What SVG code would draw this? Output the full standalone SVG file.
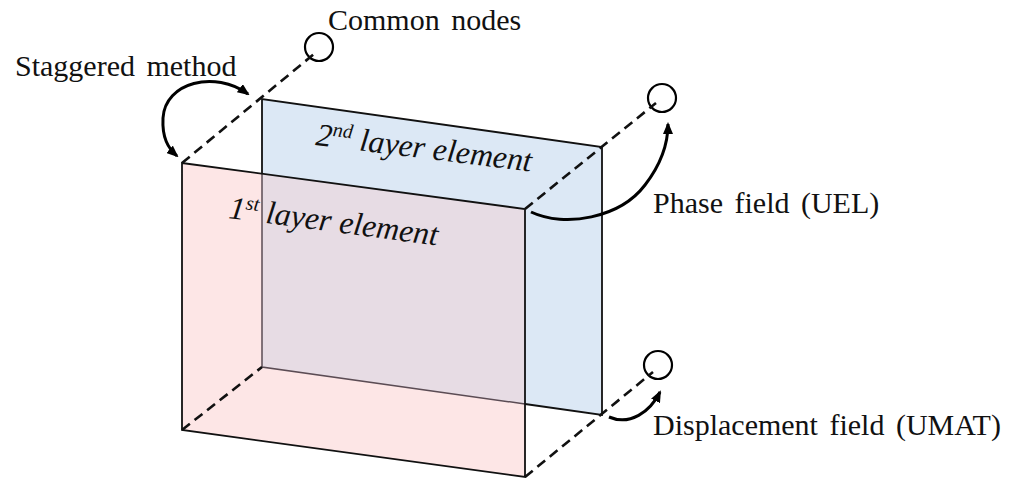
<svg xmlns="http://www.w3.org/2000/svg" width="1030" height="479" viewBox="0 0 1030 479">
  <defs>
    <marker id="head" viewBox="0 0 12 10" refX="10" refY="5" markerWidth="12" markerHeight="10" markerUnits="userSpaceOnUse" orient="auto-start-reverse">
      <path d="M0,0 L12,5 L0,10 Z" fill="#000"/>
    </marker>
    <style>
      .label { font-family: "Liberation Serif", "Times New Roman", serif; font-size: 30px; fill: #111; word-spacing: 4px; }
      .layer { font-family: "Liberation Serif", "Times New Roman", serif; font-size: 32px; font-style: italic; fill: #111; }
      .sup { font-size: 20px; }
      .edge { fill: none; stroke: #111; stroke-width: 1.8; stroke-linejoin: miter; }
      .hidden { fill: none; stroke: #5b4c54; stroke-width: 1.5; }
      .dash { fill: none; stroke: #111; stroke-width: 2.6; stroke-dasharray: 10 6; }
      .arrow { fill: none; stroke: #000; stroke-width: 3; }
      .node { fill: none; stroke: #000; stroke-width: 2.2; }
    </style>
  </defs>

  <!-- second layer element (back face) -->
  <g id="layer2">
    <polygon points="262,99 602,147 602,415 262,367" fill="#dce8f5"/>
    <polyline class="edge" points="262,174 262,99 602,147 602,415 525,404"/>
    <text class="layer" transform="translate(315,145) rotate(7)">2<tspan class="sup" dy="-11">nd</tspan><tspan dy="11"> layer element</tspan></text>
  </g>

  <!-- first layer element (front face, see-through) -->
  <g id="layer1">
    <polygon points="182,163 525,209 525,477 182,430" fill="#fde6e6"/>
    <polygon points="262,174 525,209 525,404 262,367" fill="#e7dce4"/>
    <polyline class="hidden" points="262,174 262,367 525,404"/>
    <polygon class="edge" points="182,163 525,209 525,477 182,430"/>
    <text class="layer" transform="translate(228,218) rotate(7.5)">1<tspan class="sup" dy="-11">st</tspan><tspan dy="11"> layer element</tspan></text>
  </g>

  <!-- shared nodes -->
  <g id="node-common">
    <circle class="node" cx="319" cy="47" r="14"/>
    <text class="label" x="328" y="30">Common nodes</text>
  </g>
  <g id="node-phase">
    <circle class="node" cx="662" cy="98" r="14"/>
    <text class="label" x="653" y="213">Phase field (UEL)</text>
  </g>
  <g id="node-displacement">
    <circle class="node" cx="658" cy="365" r="14"/>
    <text class="label" x="653" y="435">Displacement field (UMAT)</text>
  </g>
  <g id="staggered">
    <text class="label" x="15" y="76">Staggered method</text>
  </g>

  <!-- connectors -->
  <g id="connectors">
    <line class="dash" x1="182" y1="163" x2="314" y2="54"/>
    <line class="dash" x1="525" y1="209" x2="656" y2="103"/>
    <line class="dash" x1="525" y1="477" x2="653" y2="372"/>
    <line class="dash" x1="182" y1="430" x2="262" y2="367"/>
    <path class="arrow" d="M248,94 C215,70 165,82 163,118 C162,138 168,148 177,156" marker-start="url(#head)" marker-end="url(#head)"/>
    <path class="arrow" d="M531,212 C565,228 620,218 645,185 C662,163 668,142 668,124" marker-end="url(#head)"/>
    <path class="arrow" d="M609,417 C630,426 650,412 660,392" marker-end="url(#head)"/>
  </g>
</svg>
